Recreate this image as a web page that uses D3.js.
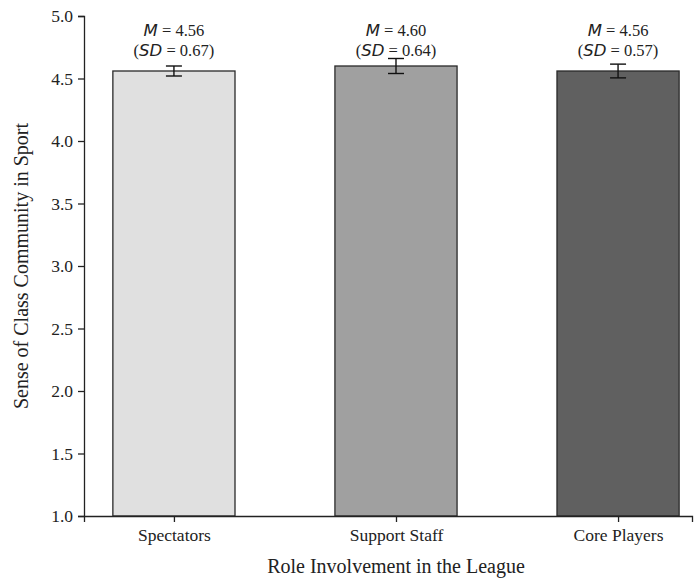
<!DOCTYPE html>
<html>
<head>
<meta charset="utf-8">
<script src="https://cdn.jsdelivr.net/npm/d3@7"></script>
<style>
  body { margin: 0; background: #fff; }
  text { font-family: "Liberation Serif", "Times New Roman", serif; fill: #222; }
  .mathit { font-family: "DejaVu Sans", sans-serif; font-style: italic; }
</style>
</head>
<body>
<div id="chart"></div>
<script>
// data
const roles = ["Spectators", "Support Staff", "Core Players"];
const means = [4.56, 4.60, 4.56];
const sds = [0.67, 0.64, 0.57];
const errs = [0.04, 0.06, 0.055];   // error bar half-lengths
const barColors = ["#e0e0e0", "#a0a0a0", "#606060"];
const yTicks = [1.0, 1.5, 2.0, 2.5, 3.0, 3.5, 4.0, 4.5, 5.0];

// 1: SVG
const W = 697, H = 581;
const svg = d3.select("#chart").append("svg")
    .attr("width", W)
    .attr("height", H);

// 2: SCALES
const x = d3.scaleLinear()
    .domain([-0.405, 2.333])
    .range([84, 692]);
const y = d3.scaleLinear()
    .domain([1.0, 5.0])
    .range([516, 16]);
const barW = 0.55;

// 3: BARS
svg.selectAll("rect.bar")
    .data(roles)
    .enter()
    .append("rect")
    .attr("class", "bar")
    .attr("x", (d, i) => x(i - barW / 2))
    .attr("width", x(barW) - x(0))
    .attr("y", (d, i) => y(means[i]))
    .attr("height", (d, i) => y(1.0) - y(means[i]))
    .attr("fill", (d, i) => barColors[i])
    .attr("stroke", "#2a2a2a")
    .attr("stroke-width", 1.3);

// 4: ERROR BARS
const cap = 8;
const eb = svg.selectAll("g.err")
    .data(roles)
    .enter()
    .append("g")
    .attr("class", "err")
    .attr("stroke", "#111")
    .attr("stroke-width", 1.4);
eb.append("line")
    .attr("x1", (d, i) => x(i)).attr("x2", (d, i) => x(i))
    .attr("y1", (d, i) => y(means[i] - errs[i]))
    .attr("y2", (d, i) => y(means[i] + errs[i]));
eb.append("line")
    .attr("x1", (d, i) => x(i) - cap).attr("x2", (d, i) => x(i) + cap)
    .attr("y1", (d, i) => y(means[i] + errs[i]))
    .attr("y2", (d, i) => y(means[i] + errs[i]));
eb.append("line")
    .attr("x1", (d, i) => x(i) - cap).attr("x2", (d, i) => x(i) + cap)
    .attr("y1", (d, i) => y(means[i] - errs[i]))
    .attr("y2", (d, i) => y(means[i] - errs[i]));

// 5: AXES
const yAxis = svg.append("g")
    .attr("transform", "translate(84,0)")
    .call(d3.axisLeft(y).tickValues(yTicks).tickFormat(d3.format(".1f")).tickSizeOuter(0).tickSize(6).tickPadding(5));
const xAxis = svg.append("g")
    .attr("transform", "translate(0,516)")
    .call(d3.axisBottom(x).tickValues([0, 1, 2]).tickFormat(i => roles[i]).tickSizeOuter(0).tickSize(6).tickPadding(7));
svg.selectAll(".tick text")
    .attr("font-family", "Liberation Serif, serif")
    .style("font-size", "17.5px");
svg.selectAll(".domain").attr("stroke", "#222").attr("stroke-width", 1.3);
svg.selectAll(".tick line").attr("stroke", "#222").attr("stroke-width", 1.3);

// 6: ANNOTATIONS
const ann = svg.selectAll("g.ann")
    .data(roles)
    .enter()
    .append("g")
    .attr("class", "ann");
const l1 = ann.append("text")
    .attr("x", (d, i) => x(i))
    .attr("y", 36)
    .attr("text-anchor", "middle")
    .style("font-size", "16.5px");
l1.append("tspan").attr("class", "mathit").text("M");
l1.append("tspan").text((d, i) => " = " + means[i].toFixed(2));
const l2 = ann.append("text")
    .attr("x", (d, i) => x(i))
    .attr("y", 56)
    .attr("text-anchor", "middle")
    .style("font-size", "16.5px");
l2.append("tspan").text("(");
l2.append("tspan").attr("class", "mathit").text("SD");
l2.append("tspan").text((d, i) => " = " + sds[i].toFixed(2) + ")");

// 7: AXIS LABELS
svg.append("text")
    .attr("x", x(1))
    .attr("y", 573)
    .attr("text-anchor", "middle")
    .style("font-size", "20px")
    .text("Role Involvement in the League");
svg.append("text")
    .attr("transform", "rotate(-90)")
    .attr("x", -y(3.0))
    .attr("y", 28)
    .attr("text-anchor", "middle")
    .style("font-size", "20px")
    .text("Sense of Class Community in Sport");
</script>
</body>
</html>
